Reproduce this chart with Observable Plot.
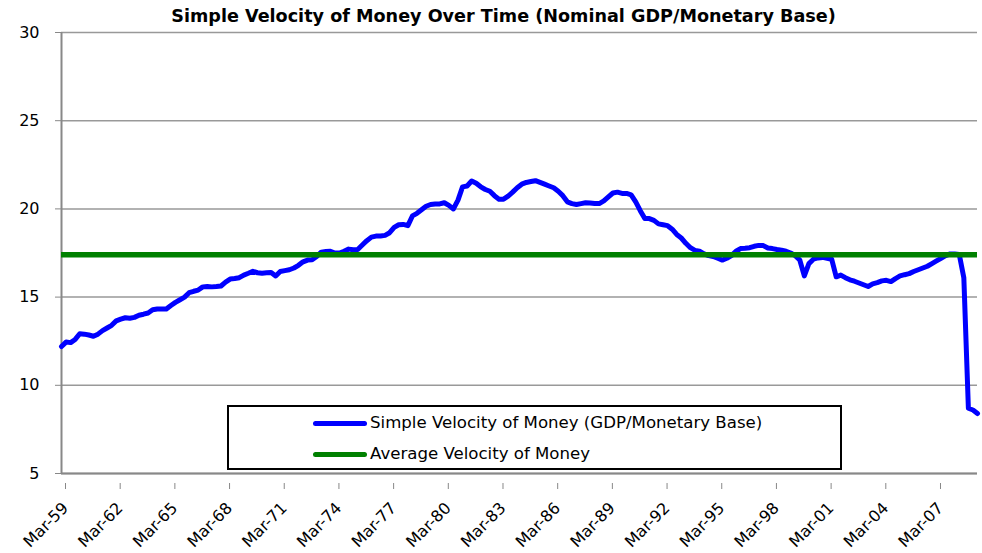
<!DOCTYPE html>
<html><head><meta charset="utf-8">
<script src="https://cdn.jsdelivr.net/npm/d3@7"></script>
<script src="https://cdn.jsdelivr.net/npm/@observablehq/plot@0.6"></script>
<style>
body{margin:0;background:#fff;font-family:"DejaVu Sans",sans-serif;}
#wrap{position:relative;width:982px;height:553px;overflow:hidden;}
#title{position:absolute;top:6px;left:0;width:1007px;text-align:center;font-weight:bold;font-size:17.6px;color:#000;line-height:20px;}
#legend{position:absolute;left:227px;top:405px;width:611px;height:61px;border:2px solid #000;background:#fff;}
.row{position:absolute;left:0;height:20px;font-size:16.6px;line-height:20px;color:#000;}
.sw{position:absolute;left:84px;top:8px;width:54px;height:5px;border-radius:3px;}
.lbl{position:absolute;left:141px;top:0;white-space:nowrap;}
</style>
</head><body>
<div id="wrap">
<div id="chart"></div>
<div id="title">Simple Velocity of Money Over Time (Nominal GDP/Monetary Base)</div>
<div id="legend"></div>
</div>
<script>
// Quarterly simple velocity, Mar-59 .. Jun-09 (4 values per year)
const velocity = [
12.2, 12.45, 12.42, 12.6,   // 1959
12.92, 12.9, 12.85, 12.78,  // 1960
12.9, 13.1, 13.25, 13.4,    // 1961
13.65, 13.75, 13.83, 13.8,  // 1962
13.85, 13.97, 14.03, 14.1,  // 1963
14.28, 14.32, 14.32, 14.32, // 1964
14.52, 14.7, 14.85, 15.0,   // 1965
15.25, 15.33, 15.4, 15.58,  // 1966
15.6, 15.58, 15.6, 15.63,   // 1967
15.85, 16.02, 16.05, 16.1,  // 1968
16.25, 16.35, 16.46, 16.38, // 1969
16.35, 16.38, 16.4, 16.2,   // 1970
16.45, 16.5, 16.55, 16.65,  // 1971
16.8, 17.0, 17.1, 17.12,    // 1972
17.3, 17.55, 17.58, 17.6,   // 1973
17.5, 17.5, 17.6, 17.72,    // 1974
17.68, 17.7, 17.95, 18.2,   // 1975
18.4, 18.46, 18.46, 18.5,   // 1976
18.65, 18.95, 19.1, 19.12,  // 1977
19.05, 19.6, 19.75, 19.95,  // 1978
20.15, 20.25, 20.28, 20.28, // 1979
20.35, 20.2, 20.0, 20.5,    // 1980
21.25, 21.3, 21.58, 21.45,  // 1981
21.25, 21.1, 21.0, 20.75,   // 1982
20.55, 20.55, 20.72, 20.95, // 1983
21.2, 21.4, 21.5, 21.55,    // 1984
21.6, 21.5, 21.4, 21.3,     // 1985
21.2, 21.0, 20.75, 20.4,    // 1986
20.3, 20.25, 20.3, 20.35,   // 1987
20.33, 20.3, 20.3, 20.45,   // 1988
20.68, 20.9, 20.95, 20.88,  // 1989
20.88, 20.8, 20.4, 19.9,    // 1990
19.45, 19.45, 19.35, 19.15, // 1991
19.1, 19.05, 18.85, 18.55,  // 1992
18.35, 18.05, 17.8, 17.65,  // 1993
17.6, 17.45, 17.35, 17.3,   // 1994
17.2, 17.1, 17.2, 17.35,    // 1995
17.6, 17.75, 17.77, 17.8,   // 1996
17.88, 17.93, 17.92, 17.78, // 1997
17.75, 17.7, 17.66, 17.6,   // 1998
17.5, 17.35, 17.1, 16.2,    // 1999
16.9, 17.15, 17.22, 17.25,  // 2000
17.2, 17.15, 16.15, 16.25,  // 2001
16.1, 15.98, 15.9, 15.8,    // 2002
15.7, 15.6, 15.75, 15.82,   // 2003
15.92, 15.95, 15.88, 16.05, // 2004
16.2, 16.27, 16.33, 16.45,  // 2005
16.55, 16.65, 16.75, 16.9,  // 2006
17.05, 17.2, 17.35, 17.45,  // 2007
17.45, 17.42, 16.1, 8.7,    // 2008
8.6, 8.4                    // 2009
];
const averageVelocity = 17.4;
const tickLabels = ["Mar-59","Mar-62","Mar-65","Mar-68","Mar-71","Mar-74","Mar-77","Mar-80","Mar-83","Mar-86","Mar-89","Mar-92","Mar-95","Mar-98","Mar-01","Mar-04","Mar-07"];
const yTicks = [5, 10, 15, 20, 25, 30];
const seriesNames = ["Simple Velocity of Money (GDP/Monetary Base)", "Average Velocity of Money"];
const seriesColors = ["#0000ff", "#008000"];

const data = velocity.map((v, i) => ({i, v}));
const tickIdx = tickLabels.map((_, k) => k * 12);

const chart = Plot.plot({
  width: 982, height: 553,
  marginLeft: 61, marginRight: 5, marginTop: 32, marginBottom: 80,
  style: {fontFamily: '"DejaVu Sans", sans-serif', background: "#fff", color: "#000"},
  x: {type: "linear", domain: [0, velocity.length - 1]},
  y: {domain: [5, 30]},
  marks: [
    Plot.gridY(yTicks, {stroke: "#999", strokeOpacity: 1, strokeWidth: 1.5}),
    Plot.axisY(yTicks, {tickSize: 6, tickPadding: 16, fontSize: 16, stroke: "#888", fill: "#000", label: null}),
    Plot.axisX(tickIdx, {tickFormat: (d) => tickLabels[d / 12], tickRotate: -45, tickSize: 6, tickPadding: 16, dx: 4, dy: 10, fontSize: 16, stroke: "#888", fill: "#000", label: null}),
    Plot.ruleX([0], {stroke: "#888", strokeWidth: 2}),
    Plot.ruleY([5], {stroke: "#888", strokeWidth: 2}),
    Plot.lineY(data, {x: "i", y: "v", stroke: seriesColors[0], strokeWidth: 5, strokeLinejoin: "round", strokeLinecap: "round"}),
    Plot.ruleY([averageVelocity], {stroke: seriesColors[1], strokeWidth: 5.5})
  ]
});
document.getElementById("chart").appendChild(chart);

const legend = document.getElementById("legend");
seriesNames.forEach((name, k) => {
  const row = document.createElement("div");
  row.className = "row";
  row.style.top = (k === 0 ? 6 : 37) + "px";
  row.style.width = "100%";
  row.innerHTML = `<span class="sw" style="background:${seriesColors[k]}"></span><span class="lbl">${name}</span>`;
  legend.appendChild(row);
});
</script>
</body></html>
